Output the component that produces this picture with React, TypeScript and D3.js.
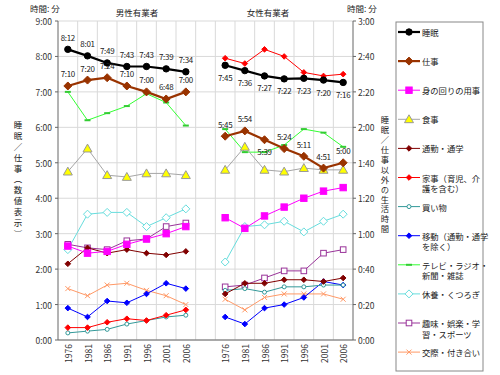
import React from "react";
import * as d3 from "d3";

const years = ["1976", "1981", "1986", "1991", "1996", "2001", "2006"];
// hh:mm, left axis
const maleSleep = ["8:12", "8:01", "7:49", "7:43", "7:43", "7:39", "7:34"];
const femaleSleep = ["7:45", "7:36", "7:27", "7:22", "7:23", "7:20", "7:16"];
const maleWork = ["7:10", "7:20", "7:24", "7:10", "7:00", "6:48", "7:00"];
const femaleWork = ["5:45", "5:54", "5:39", "5:24", "5:11", "4:51", "5:00"];
// minutes, right axis
const malePersonalCare = [53, 49, 50, 54, 57, 60, 64];
const femalePersonalCare = [69, 63, 70, 75, 80, 84, 86];
const maleMeals = [95, 108, 93, 92, 94, 94, 93];
const femaleMeals = [96, 109, 96, 95, 97, 96, 96];
const maleCommute = [43, 52, 49, 51, 49, 48, 50];
const femaleCommute = [26, 32, 32, 34, 34, 33, 35];
const maleHousework = [7, 7, 10, 12, 11, 14, 17];
const femaleHousework = [159, 156, 164, 160, 151, 149, 150];
const maleShopping = [4, 5, 6, 9, 11, 13, 14];
const femaleShopping = [28, 29, 27, 30, 30, 31, 31];
const maleTravel = [18, 13, 22, 21, 26, 32, 29];
const femaleTravel = [13, 9, 18, 20, 24, 33, 31];
const maleTV = [140, 124, 128, 132, 139, 134, 121];
const femaleTV = [119, 106, 106, 110, 119, 117, 109];
const maleRest = [51, 71, 72, 72, 64, 69, 74];
const femaleRest = [44, 64, 65, 67, 61, 67, 71];
const maleHobby = [54, 52, 51, 56, 57, 64, 66];
const femaleHobby = [30, 31, 35, 39, 39, 49, 51];
const maleSocial = [29, 25, 31, 32, 28, 25, 20];
const femaleSocial = [23, 17, 24, 26, 26, 26, 23];

const leftTicks = ["0:00", "1:00", "2:00", "3:00", "4:00", "5:00", "6:00", "7:00", "8:00", "9:00"];
const rightTicks = ["0:00", "0:20", "0:40", "1:00", "1:20", "1:40", "2:00", "2:20", "2:40", "3:00"];

const toMin = (s: string) => {
  const [h, m] = s.split(":").map(Number);
  return h * 60 + m;
};

type Marker = "circle" | "diamond" | "square" | "triangle" | "dash" | "x" | "ocircle";

interface Series {
  name: string;
  legend: string[];
  color: string;
  width: number;
  marker: Marker;
  size: number;
  fill: string;
  stroke: string;
  axis: "left" | "right";
  male: number[];
  female: number[];
}

const series: Series[] = [
  { name: "睡眠", legend: ["睡眠"], color: "#000000", width: 2.2, marker: "circle", size: 3.2, fill: "#000", stroke: "#000", axis: "left", male: maleSleep.map(toMin), female: femaleSleep.map(toMin) },
  { name: "仕事", legend: ["仕事"], color: "#993300", width: 2.2, marker: "diamond", size: 4, fill: "#993300", stroke: "#993300", axis: "left", male: maleWork.map(toMin), female: femaleWork.map(toMin) },
  { name: "身の回りの用事", legend: ["身の回りの用事"], color: "#ff00ff", width: 1, marker: "square", size: 3.2, fill: "#ff00ff", stroke: "#ff00ff", axis: "right", male: malePersonalCare, female: femalePersonalCare },
  { name: "食事", legend: ["食事"], color: "#a6a6a6", width: 1, marker: "triangle", size: 4.5, fill: "#ffff00", stroke: "#999999", axis: "right", male: maleMeals, female: femaleMeals },
  { name: "通勤・通学", legend: ["通勤・通学"], color: "#800000", width: 1, marker: "diamond", size: 2.8, fill: "#800000", stroke: "#800000", axis: "right", male: maleCommute, female: femaleCommute },
  { name: "家事", legend: ["家事（育児、介", "護を含む）"], color: "#ff0000", width: 1, marker: "diamond", size: 2.8, fill: "#ff0000", stroke: "#ff0000", axis: "right", male: maleHousework, female: femaleHousework },
  { name: "買い物", legend: ["買い物"], color: "#339999", width: 1, marker: "ocircle", size: 2, fill: "#ffffff", stroke: "#339999", axis: "right", male: maleShopping, female: femaleShopping },
  { name: "移動", legend: ["移動（通勤・通学", "を除く）"], color: "#0000ff", width: 1, marker: "diamond", size: 2.8, fill: "#0000ff", stroke: "#0000ff", axis: "right", male: maleTravel, female: femaleTravel },
  { name: "テレビ", legend: ["テレビ・ラジオ・", "新聞・雑誌"], color: "#33ff33", width: 1, marker: "dash", size: 3, fill: "#33ff33", stroke: "#33cc33", axis: "right", male: maleTV, female: femaleTV },
  { name: "休養", legend: ["休養・くつろぎ"], color: "#66dddd", width: 1, marker: "diamond", size: 4, fill: "#ffffff", stroke: "#66dddd", axis: "right", male: maleRest, female: femaleRest },
  { name: "趣味", legend: ["趣味・娯楽・学", "習・スポーツ"], color: "#993399", width: 1, marker: "square", size: 2.8, fill: "#ffffff", stroke: "#993399", axis: "right", male: maleHobby, female: femaleHobby },
  { name: "交際", legend: ["交際・付き合い"], color: "#ff9966", width: 1, marker: "x", size: 2.5, fill: "none", stroke: "#ff9966", axis: "right", male: maleSocial, female: femaleSocial },
];

const W = 500;
const H = 375;
const plotL = 58;
const plotR = 353;
const plotT = 21;
const plotB = 340;
const FONT = "'Noto Sans CJK JP', 'Noto Sans', sans-serif";

const slots = [...years.map((y) => "M" + y), "gap", ...years.map((y) => "F" + y)];
const x = d3.scaleBand<string>().domain(slots).range([plotL, plotR]).padding(0);
const bw = x.bandwidth();
const cx = (k: string) => (x(k) as number) + bw / 2;
const yL = d3.scaleLinear().domain([0, 540]).range([plotB, plotT]);
const yR = d3.scaleLinear().domain([0, 180]).range([plotB, plotT]);

function MarkerShape({ m, px, py, s }: { m: Marker; px: number; py: number; s: Series }) {
  const r = s.size;
  const sw = 1;
  switch (m) {
    case "circle":
    case "ocircle":
      return <circle cx={px} cy={py} r={r} fill={s.fill} stroke={s.stroke} strokeWidth={sw} />;
    case "diamond":
      return (
        <polygon
          points={`${px},${py - r} ${px + r},${py} ${px},${py + r} ${px - r},${py}`}
          fill={s.fill}
          stroke={s.stroke}
          strokeWidth={sw}
        />
      );
    case "square":
      return <rect x={px - r} y={py - r} width={2 * r} height={2 * r} fill={s.fill} stroke={s.stroke} strokeWidth={sw} />;
    case "triangle":
      return (
        <polygon
          points={`${px},${py - r} ${px + r},${py + r * 0.75} ${px - r},${py + r * 0.75}`}
          fill={s.fill}
          stroke={s.stroke}
          strokeWidth={sw}
        />
      );
    case "dash":
      return <line x1={px - r} x2={px + r} y1={py} y2={py} stroke={s.stroke} strokeWidth={2} />;
    case "x":
      return (
        <g stroke={s.stroke} strokeWidth={1}>
          <line x1={px - r} x2={px + r} y1={py - r} y2={py + r} />
          <line x1={px - r} x2={px + r} y1={py + r} y2={py - r} />
        </g>
      );
  }
  return null;
}

const leftVertical = "睡眠／仕事︵数値表示︶";
const rightVertical = "睡眠／仕事以外の生活時間";

// label placement: -1 above, +1 below
const maleSleepPos = [-1, -1, -1, -1, -1, -1, -1];
const maleWorkPos = [-1, -1, -1, -1, -1, -1, -1];
const femaleSleepPos = [1, 1, 1, 1, 1, 1, 1];
const femaleWorkPos = [-1, -1, 1, -1, -1, -1, -1];

export default function App() {
  const line = d3
    .line<[number, number]>()
    .x((d) => d[0])
    .y((d) => d[1]);

  const pts = (s: Series, group: "M" | "F") => {
    const vals = group === "M" ? s.male : s.female;
    const ys = s.axis === "left" ? yL : yR;
    return vals.map((v, i) => [cx(group + years[i]), ys(v)] as [number, number]);
  };

  const labelSets = [
    { vals: maleSleep, g: "M", pos: maleSleepPos },
    { vals: maleWork, g: "M", pos: maleWorkPos },
    { vals: femaleSleep, g: "F", pos: femaleSleepPos },
    { vals: femaleWork, g: "F", pos: femaleWorkPos },
  ];

  const legendY = (i: number) => 32 + i * 29.1;

  const vStyle = (ls: number): React.CSSProperties => ({
    writingMode: "vertical-rl" as any,
    textOrientation: "upright" as any,
    letterSpacing: ls,
  });

  return (
    <svg
      width={W}
      height={H}
      style={{ position: "fixed", left: 0, top: 0, background: "#fff" }}
      fontFamily={FONT}
    >
      <rect x={0} y={0} width={W} height={H} fill="#fff" />
      {/* grid */}
      {d3.range(0, 10).map((h) => (
        <line key={"hg" + h} x1={plotL} x2={plotR} y1={yL(h * 60)} y2={yL(h * 60)} stroke="#d9d9d9" strokeWidth={1} />
      ))}
      {slots.slice(1).map((k) => (
        <line key={"vg" + k} x1={x(k)} x2={x(k)} y1={plotT} y2={plotB} stroke="#d9d9d9" strokeWidth={1} />
      ))}
      {/* axes */}
      <line x1={plotL} x2={plotL} y1={plotT} y2={plotB} stroke="#666" />
      <line x1={plotR} x2={plotR} y1={plotT} y2={plotB} stroke="#666" />
      <line x1={plotL} x2={plotR} y1={plotB} y2={plotB} stroke="#666" />
      {leftTicks.map((t, i) => (
        <g key={"lt" + t}>
          <line x1={plotL - 3} x2={plotL} y1={yL(i * 60)} y2={yL(i * 60)} stroke="#666" />
          <text x={plotL - 6} y={yL(i * 60)} fontSize={8.5} textAnchor="end" dominantBaseline="central" fill="#333">
            {t}
          </text>
        </g>
      ))}
      {rightTicks.map((t, i) => (
        <g key={"rt" + t}>
          <line x1={plotR} x2={plotR + 3} y1={yR(i * 20)} y2={yR(i * 20)} stroke="#666" />
          <text x={plotR + 5} y={yR(i * 20)} fontSize={8.5} textAnchor="start" dominantBaseline="central" fill="#333">
            {t}
          </text>
        </g>
      ))}
      {slots.map((k) =>
        k === "gap" ? null : (
          <text
            key={"xt" + k}
            transform={`translate(${cx(k)},${plotB + 4}) rotate(-90)`}
            fontSize={8.5}
            textAnchor="end"
            dominantBaseline="central"
            fill="#333"
          >
            {k.slice(1)}
          </text>
        )
      )}
      {/* titles */}
      <text x={30} y={8} fontSize={8.5} dominantBaseline="central" fill="#222">時間: 分</text>
      <text x={347} y={8} fontSize={8.5} dominantBaseline="central" fill="#222">時間: 分</text>
      <text x={137} y={12} fontSize={8.5} textAnchor="middle" dominantBaseline="central" fill="#222">男性有業者</text>
      <text x={268} y={12} fontSize={8.5} textAnchor="middle" dominantBaseline="central" fill="#222">女性有業者</text>
      <text x={18} y={120.5} fontSize={8.5} fill="#222" style={vStyle(2.4)}>
        {leftVertical}
      </text>
      <text x={385} y={116} fontSize={8.3} fill="#222" style={vStyle(1.6)}>
        {rightVertical}
      </text>
      {/* series (draw in reverse so first series on top) */}
      {[...series].reverse().map((s) => (
        <g key={"s" + s.name}>
          {(["M", "F"] as const).map((g) => {
            const p = pts(s, g);
            return (
              <g key={g}>
                <path d={line(p) || ""} fill="none" stroke={s.color} strokeWidth={s.width} />
                {p.map((q, i) => (
                  <MarkerShape key={i} m={s.marker} px={q[0]} py={q[1]} s={s} />
                ))}
              </g>
            );
          })}
        </g>
      ))}
      {/* data labels */}
      {labelSets.map((ls, j) =>
        ls.vals.map((v, i) => (
          <text
            key={"dl" + j + "-" + i}
            x={cx(ls.g + years[i])}
            y={yL(toMin(v)) + ls.pos[i] * 12}
            fontSize={8}
            letterSpacing={-0.3}
            textAnchor="middle"
            dominantBaseline="central"
            fill="#222"
          >
            {v}
          </text>
        ))
      )}
      {/* legend */}
      <rect x={396} y={22} width={87} height={349} fill="#fff" stroke="#888" strokeWidth={1} />
      {series.map((s, i) => {
        const ly = legendY(i);
        return (
          <g key={"lg" + s.name}>
            <line x1={398} x2={420} y1={ly} y2={ly} stroke={s.color} strokeWidth={s.width} />
            <MarkerShape m={s.marker} px={409} py={ly} s={s} />
            {s.legend.map((t, k) => (
              <text key={k} x={422} y={ly + k * 10.5} fontSize={8.3} dominantBaseline="central" fill="#222">
                {t}
              </text>
            ))}
          </g>
        );
      })}
    </svg>
  );
}
